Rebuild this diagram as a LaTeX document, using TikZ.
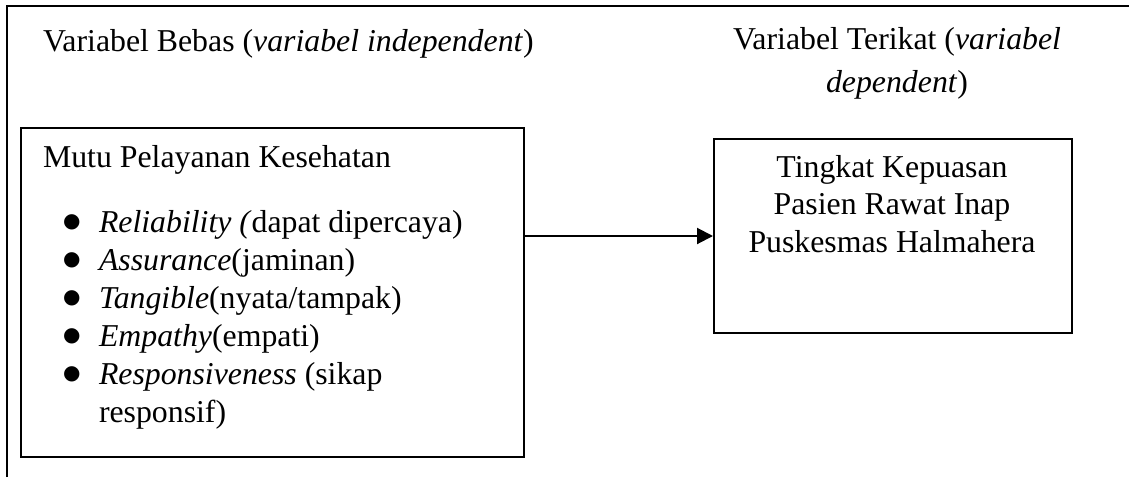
\documentclass[tikz,border=0pt]{standalone}
\usepackage{fontspec}
\setmainfont{Liberation Serif}
\newfontfamily\simbol{DejaVu Sans}
\usetikzlibrary{arrows.meta}

\begin{document}
\begin{tikzpicture}[x=0.5pt, y=-0.5pt, line width=1pt,
    font=\fontsize{15.9}{19}\selectfont,
    txt/.style={anchor=base west, inner sep=0pt},
    mid/.style={anchor=base, inner sep=0pt},
    bul/.style={anchor=base west, inner sep=0pt, font=\simbol\fontsize{10}{10}\selectfont},
    kotak/.style={draw, anchor=north west, inner sep=0pt}]
      \useasboundingbox (0,0) rectangle (1129,477);

      \draw (7,477) -- (7,6) -- (1129,6);

      \node[txt] (bebas) at (42,51) {Variabel Bebas (\textit{variabel independent})};
      \node[mid] (terikat) at (897,49) {Variabel Terikat (\textit{variabel}};
      \node[mid] (terikatb) at (897,92) {\textit{dependent})};

      \node[kotak, minimum width=251.5pt, minimum height=164.5pt] (mutu) at (20,127) {};
      \node[kotak, minimum width=179pt, minimum height=97pt] (puas) at (713,138) {};

      \node[txt] (judul) at (42,167) {Mutu Pelayanan Kesehatan};
      \node[bul] at (62,227) {●};
      \node[txt] at (98,232) {\textit{Reliability (}dapat dipercaya)};
      \node[bul] at (62,265) {●};
      \node[txt] at (98,270) {\textit{Assurance}(jaminan)};
      \node[bul] at (62,303) {●};
      \node[txt] at (98,308) {\textit{Tangible}(nyata/tampak)};
      \node[bul] at (62,341) {●};
      \node[txt] at (98,346) {\textit{Empathy}(empati)};
      \node[bul] at (62,379) {●};
      \node[txt] at (98,384) {\textit{Responsiveness} (sikap};
      \node[txt] at (98,422) {responsif)};

      \node[mid] at (892,177) {Tingkat Kepuasan};
      \node[mid] at (892,214) {Pasien Rawat Inap};
      \node[mid] at (892,252) {Puskesmas Halmahera};

      \draw[-{Triangle[length=8pt, width=8pt]}] (mutu.east |- puas.west) -- (puas.west);

    \end{tikzpicture}
\end{document}
